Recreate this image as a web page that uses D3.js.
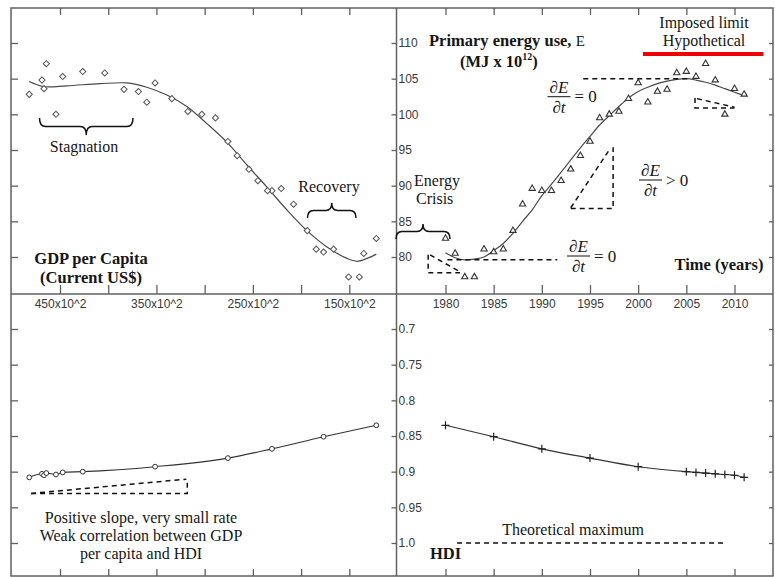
<!DOCTYPE html>
<html>
<head>
<meta charset="utf-8">
<script src="https://cdn.jsdelivr.net/npm/d3@7"></script>
<style>
  html, body { margin: 0; padding: 0; background: #fff; }
  svg { display: block; }
  .tick text { font-family: "Liberation Sans", Arial, sans-serif; font-size: 12px; fill: #3a3a3a; }
</style>
</head>
<body>
<svg id="chart" width="775" height="577"></svg>
<script>
// Annual observations, 1980-2011
const years = [1980, 1981, 1982, 1983, 1984, 1985, 1986, 1987, 1988, 1989, 1990, 1991,
  1992, 1993, 1994, 1995, 1996, 1997, 1998, 1999, 2000, 2001, 2002, 2003,
  2004, 2005, 2006, 2007, 2008, 2009, 2010, 2011];

// Primary energy use, MJ x 10^12
const energy = [82.6, 80.5, 77.2, 77.2, 81.1, 80.7, 81.1, 83.7, 87.4, 89.6, 89.3, 89.3,
  90.7, 92.3, 94.2, 96.2, 99.5, 100.0, 100.4, 102.2, 104.4, 101.7, 103.2, 103.5,
  105.8, 106.0, 105.3, 107.1, 104.8, 100.0, 103.6, 102.8];

// GDP per capita, current US$
const gdp = [12200, 13500, 13960, 15070, 16630, 17670, 18430, 19360, 20780, 22060, 23020, 23480,
  24480, 25410, 26630, 27590, 28880, 30290, 31740, 33400, 35140, 36000, 36870, 38360,
  40360, 42640, 44720, 46420, 46870, 45420, 46660, 48190];

// Smoothed trend of energy over time
const energyFit = [80.6, 79.9, 79.6, 79.7, 80.0, 80.9, 81.9, 83.3, 85.0, 86.6, 88.6, 90.2,
  91.9, 93.6, 95.3, 96.9, 98.5, 99.8, 101.1, 102.3, 103.2, 103.8, 104.3, 104.65,
  104.9, 105.0, 104.8, 104.5, 104.1, 103.6, 103.1, 102.6];

// Smoothed trend of energy against GDP per capita
const gdpFitX = [48190, 46730, 44300, 40850, 38080, 36000, 33920, 31850, 29770, 27700,
  25620, 23540, 21470, 19390, 17310, 15240, 14200, 13160, 12200];
const gdpFitE = [104.6, 103.9, 104.0, 104.3, 104.4, 103.8, 102.7, 101.1, 98.7, 96.1,
  92.9, 89.8, 86.6, 83.7, 81.4, 79.8, 79.4, 79.8, 80.4];

// Human Development Index
const hdiYears = [1980, 1985, 1990, 1995, 2000, 2005, 2006, 2007, 2008, 2009, 2010, 2011];
const hdi = [0.835, 0.851, 0.868, 0.881, 0.893, 0.900, 0.901, 0.902, 0.903, 0.904, 0.905, 0.908];

// Axis ticks
const gdpTicks = [45000, 40000, 35000, 30000, 25000, 20000, 15000];
const gdpLabelled = [45000, 35000, 25000, 15000];
const yearTicks = [1980, 1985, 1990, 1995, 2000, 2005, 2010];
const energyTicks = [80, 85, 90, 95, 100, 105, 110];
const hdiTicks = [0.7, 0.75, 0.8, 0.85, 0.9, 0.95, 1.0];
const hdiLabels = ["0.7", "0.75", "0.8", "0.85", "0.9", "0.95", "1.0"];

const SERIF = '"Liberation Serif", "Times New Roman", Times, "DejaVu Serif", serif';

const svg = d3.select("#chart");
const L = 11, R = 773, T = 8, B = 576, CX = 396.5, CY = 294;

const xG = d3.scaleLinear().domain([45000, 15000]).range([60, 349.3]);
const xT = d3.scaleLinear().domain([1980, 2010]).range([445.5, 734.5]);
const yE = d3.scaleLinear().domain([80, 110]).range([257, 43]);
const yH = d3.scaleLinear().domain([0.7, 1.0]).range([329, 543]);

const axisColor = "#606060";
function styleAxis(g) {
  g.select(".domain").remove();
  g.selectAll(".tick line").attr("stroke", axisColor).attr("stroke-width", 1.3);
}

// Frame
svg.append("rect").attr("x", L).attr("y", T).attr("width", R - L).attr("height", B - T)
  .attr("fill", "none").attr("stroke", axisColor).attr("stroke-width", 1.5);

// Border ticks
svg.append("g").attr("transform", `translate(0,${T})`)
  .call(d3.axisBottom(xG).tickValues(gdpTicks).tickSize(7).tickFormat("")).call(styleAxis);
svg.append("g").attr("transform", `translate(0,${T})`)
  .call(d3.axisBottom(xT).tickValues(yearTicks).tickSize(7).tickFormat("")).call(styleAxis);
svg.append("g").attr("transform", `translate(0,${B})`)
  .call(d3.axisTop(xG).tickValues(gdpTicks).tickSize(7).tickFormat("")).call(styleAxis);
svg.append("g").attr("transform", `translate(0,${B})`)
  .call(d3.axisTop(xT).tickValues(yearTicks).tickSize(7).tickFormat("")).call(styleAxis);
svg.append("g").attr("transform", `translate(${L},0)`)
  .call(d3.axisRight(yE).tickValues(energyTicks).tickSize(7).tickFormat("")).call(styleAxis);
svg.append("g").attr("transform", `translate(${L},0)`)
  .call(d3.axisRight(yH).tickValues(hdiTicks).tickSize(7).tickFormat("")).call(styleAxis);
svg.append("g").attr("transform", `translate(${R},0)`)
  .call(d3.axisLeft(yE).tickValues(energyTicks).tickSize(4).tickFormat("")).call(styleAxis);
svg.append("g").attr("transform", `translate(${R},0)`)
  .call(d3.axisLeft(yH).tickValues(hdiTicks).tickSize(4).tickFormat("")).call(styleAxis);

// Central axes
svg.append("line").attr("x1", CX).attr("x2", CX).attr("y1", T).attr("y2", B)
  .attr("stroke", axisColor).attr("stroke-width", 1.5);
svg.append("line").attr("x1", L).attr("x2", R).attr("y1", CY).attr("y2", CY)
  .attr("stroke", axisColor).attr("stroke-width", 1.5);

svg.append("g").attr("transform", `translate(${CX},0)`)
  .call(d3.axisRight(yE).tickValues(energyTicks).tickSize(-5).tickPadding(2)).call(styleAxis);
svg.append("g").attr("transform", `translate(${CX},0)`)
  .call(d3.axisRight(yH).tickValues(hdiTicks).tickSize(-5).tickPadding(2)
    .tickFormat((d, i) => hdiLabels[i])).call(styleAxis);
svg.append("g").attr("transform", `translate(0,${CY})`)
  .call(d3.axisBottom(xG).tickValues(gdpTicks).tickSize(-9).tickPadding(5)
    .tickFormat(d => gdpLabelled.includes(d) ? (d / 100) + "x10^2" : "")).call(styleAxis);
svg.append("g").attr("transform", `translate(0,${CY})`)
  .call(d3.axisBottom(xT).tickValues(yearTicks).tickSize(-9).tickPadding(5)
    .tickFormat(d3.format("d"))).call(styleAxis);

const lineColor = "#4a4a4a";
const dash = "5,4";

// ---- Top left: energy vs GDP per capita ----
const fitG = gdpFitX.map((g, i) => [xG(g), yE(gdpFitE[i])]);
svg.append("path").attr("d", d3.line().curve(d3.curveCatmullRom.alpha(0.5))(fitG))
  .attr("fill", "none").attr("stroke", lineColor).attr("stroke-width", 1.2);

const diamond = d3.symbol(d3.symbolSquare, 19);
svg.append("g").selectAll("path").data(years).join("path")
  .attr("d", diamond)
  .attr("transform", (d, i) => `translate(${xG(gdp[i])},${yE(energy[i])}) rotate(45)`)
  .attr("fill", "#fff").attr("stroke", "#555").attr("stroke-width", 1);

// ---- Top right: energy over time ----
const fitT = years.map((y, i) => [xT(y), yE(energyFit[i])]);
svg.append("path").attr("d", d3.line().curve(d3.curveCatmullRom.alpha(0.5))(fitT))
  .attr("fill", "none").attr("stroke", lineColor).attr("stroke-width", 1.2);

const tri = d3.symbol(d3.symbolTriangle, 17);
svg.append("g").selectAll("path").data(years).join("path")
  .attr("d", tri)
  .attr("transform", (d, i) => `translate(${xT(d)},${yE(energy[i])})`)
  .attr("fill", "#fff").attr("stroke", "#333").attr("stroke-width", 1.1);

// ---- Bottom left: HDI vs GDP per capita ----
const hdiG = hdiYears.map((y, i) => [xG(gdp[years.indexOf(y)]), yH(hdi[i])])
  .sort((a, b) => a[0] - b[0]);
svg.append("path").attr("d", d3.line().curve(d3.curveMonotoneX)(hdiG))
  .attr("fill", "none").attr("stroke", "#333").attr("stroke-width", 1.1);
svg.append("g").selectAll("circle").data(hdiG).join("circle")
  .attr("cx", d => d[0]).attr("cy", d => d[1]).attr("r", 2.4)
  .attr("fill", "#fff").attr("stroke", "#333").attr("stroke-width", 1);

// ---- Bottom right: HDI over time ----
const hdiT = hdiYears.map((y, i) => [xT(y), yH(hdi[i])]);
svg.append("path").attr("d", d3.line().curve(d3.curveMonotoneX)(hdiT))
  .attr("fill", "none").attr("stroke", "#333").attr("stroke-width", 1.1);
svg.append("g").selectAll("path").data(hdiT).join("path")
  .attr("d", "M-4,0H4M0,-4V4")
  .attr("transform", d => `translate(${d[0]},${d[1]})`)
  .attr("stroke", "#222").attr("stroke-width", 1.2);

// ---- Annotations ----
function dashed(points) {
  svg.append("path").attr("d", d3.line()(points))
    .attr("fill", "none").attr("stroke", "#111").attr("stroke-width", 1.5)
    .attr("stroke-dasharray", dash);
}
// tangent lines (zero slope)
dashed([[xT(1980.2), yE(79.6)], [xT(1991.6), yE(79.6)]]);
dashed([[xT(1994.3), yE(105.0)], [xT(2005.1), yE(105.0)]]);
// slope triangles
dashed([[xT(1978.2), yE(80.3)], [xT(1978.2), yE(77.8)], [xT(1981.5), yE(77.8)]]);
dashed([[xT(1978.4), yE(80.3)], [xT(1981.4), yE(78.0)]]);
dashed([[xT(1993.0), yE(86.8)], [xT(1997.4), yE(86.8)], [xT(1997.4), yE(95.4)]]);
dashed([[xT(1993.0), yE(86.9)], [xT(1996.9), yE(94.8)]]);
dashed([[xT(2005.9), yE(102.3)], [xT(2005.9), yE(100.9)], [xT(2010.0), yE(100.9)]]);
dashed([[xT(2006.1), yE(102.2)], [xT(2010.0), yE(101.0)]]);
dashed([[xG(48000), yH(0.9305)], [xG(31800), yH(0.9305)], [xG(31800), yH(0.9100)]]);
dashed([[xG(48000), yH(0.9305)], [xG(31900), yH(0.9105)]]);
// theoretical maximum
dashed([[xT(1981.2), yH(1.0)], [xT(2009.1), yH(1.0)]]);

// imposed limit
svg.append("line").attr("x1", xT(2000.5)).attr("x2", xT(2013.0))
  .attr("y1", 54).attr("y2", 54).attr("stroke", "#ee0000").attr("stroke-width", 4);

// curly braces
function brace(x1, x2, y0, h) {
  const xm = (x1 + x2) / 2, ym = y0 + h / 2, yt = y0 + h, r = 6;
  const p = `M${x1},${y0} Q${x1},${ym} ${x1 + r},${ym} L${xm - r},${ym} Q${xm},${ym} ${xm},${yt}`
    + ` Q${xm},${ym} ${xm + r},${ym} L${x2 - r},${ym} Q${x2},${ym} ${x2},${y0}`;
  svg.append("path").attr("d", p).attr("fill", "none").attr("stroke", "#111").attr("stroke-width", 1.5);
}
brace(39.5, 133, 118, 17);
brace(307.5, 356, 218, -15);
brace(396, 450, 239, -15);

function text(x, y, s, opts = {}) {
  return svg.append("text").attr("x", x).attr("y", y)
    .attr("font-family", SERIF).attr("fill", "#161616")
    .attr("font-size", opts.size || (opts.bold ? 16.5 : 16)).attr("text-anchor", opts.anchor || "start")
    .attr("font-weight", opts.bold ? "bold" : "normal")
    .attr("font-style", opts.italic ? "italic" : "normal").text(s);
}

text(84, 152, "Stagnation", { anchor: "middle" });
text(329, 192, "Recovery", { anchor: "middle" });
text(91, 264, "GDP per Capita", { anchor: "middle", bold: true });
text(91, 283, "(Current US$)", { anchor: "middle", bold: true });

const pe = text(429, 46, "Primary energy use, ", { bold: true });
pe.append("tspan").attr("font-weight", "normal").attr("font-size", 15).text("E");
const mj = text(460, 67, "(MJ x 10", { bold: true });
mj.append("tspan").attr("font-size", 10).attr("dy", -7).text("12");
mj.append("tspan").attr("dy", 7).text(")");

text(704, 28, "Imposed limit", { anchor: "middle" });
text(704, 46, "Hypothetical", { anchor: "middle" });
text(414, 186, "Energy");
text(416, 204, "Crisis");
text(719, 270, "Time (years)", { anchor: "middle", bold: true });

text(141, 523, "Positive slope, very small rate", { anchor: "middle" });
text(141, 541, "Weak correlation between GDP", { anchor: "middle" });
text(141, 559, "per capita and HDI", { anchor: "middle" });
text(573, 535, "Theoretical maximum", { anchor: "middle" });
text(430, 559, "HDI", { bold: true });

// partial derivative fractions
function frac(x, yBar, rel) {
  const w = 23;
  svg.append("line").attr("x1", x).attr("x2", x + w).attr("y1", yBar).attr("y2", yBar)
    .attr("stroke", "#111").attr("stroke-width", 1);
  text(x + w / 2, yBar - 4, "\u2202E", { anchor: "middle", italic: true, size: 17 });
  text(x + w / 2, yBar + 16, "\u2202t", { anchor: "middle", italic: true, size: 17 });
  text(x + w + 4, yBar + 5.5, rel, { size: 17 });
}
frac(547.5, 96.7, "= 0");
frac(567, 256, "= 0");
frac(639, 180, "> 0");
</script>
</body>
</html>
